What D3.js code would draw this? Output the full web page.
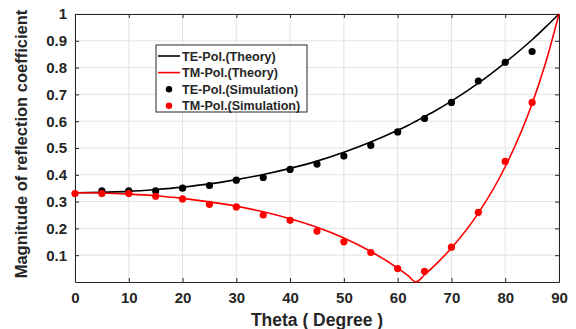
<!DOCTYPE html>
<html>
<head>
<meta charset="utf-8">
<script src="https://cdn.jsdelivr.net/npm/d3@7"></script>
<style>
  body { margin: 0; background: #fff; }
  text { font-family: "Liberation Sans", Arial, sans-serif; font-weight: bold; fill: #262626; }
</style>
</head>
<body>
<div id="chart"></div>
<script>
// theory curves
const thetaTheory = [0, 5, 10, 15, 20, 25, 30, 35, 40, 45, 50, 55, 60, 62, 63.4, 65, 67, 70, 75, 80, 85, 87.5, 90];
const teTheory = [0.333, 0.335, 0.338, 0.345, 0.354, 0.366, 0.382, 0.401, 0.424, 0.451, 0.484, 0.522, 0.566, 0.585, 0.6, 0.617, 0.639, 0.675, 0.742, 0.819, 0.904, 0.951, 1];
const tmTheory = [0.333, 0.332, 0.328, 0.322, 0.312, 0.299, 0.283, 0.262, 0.236, 0.204, 0.164, 0.114, 0.052, 0.023, 0.0, 0.027, 0.064, 0.127, 0.257, 0.430, 0.665, 0.817, 1];

// simulation points
const thetaTeSim = [5, 10, 15, 20, 25, 30, 35, 40, 45, 50, 55, 60, 65, 70, 75, 80, 85];
const teSim = [0.34, 0.34, 0.34, 0.35, 0.36, 0.38, 0.39, 0.42, 0.44, 0.47, 0.51, 0.56, 0.61, 0.67, 0.75, 0.82, 0.86];
const thetaTmSim = [0, 5, 10, 15, 20, 25, 30, 35, 40, 45, 50, 55, 60, 65, 70, 75, 80, 85];
const tmSim = [0.33, 0.33, 0.33, 0.32, 0.31, 0.29, 0.28, 0.25, 0.23, 0.19, 0.15, 0.11, 0.05, 0.04, 0.13, 0.26, 0.45, 0.67];

const xTicks = [0, 10, 20, 30, 40, 50, 60, 70, 80, 90];
const yTicks = [0.1, 0.2, 0.3, 0.4, 0.5, 0.6, 0.7, 0.8, 0.9, 1];
const legendLabels = ['TE-Pol.(Theory)', 'TM-Pol.(Theory)', 'TE-Pol.(Simulation)', 'TM-Pol.(Simulation)'];

const W = 576, H = 329;
const margin = { top: 14, right: 17, bottom: 47, left: 75 };
const width = W - margin.left - margin.right;
const height = H - margin.top - margin.bottom;

const svg = d3.select('#chart')
  .append('svg')
  .attr('width', W)
  .attr('height', H);

const g = svg.append('g')
  .attr('transform', `translate(${margin.left},${margin.top})`);

const x = d3.scaleLinear().domain([0, 90]).range([0, width]);
const y = d3.scaleLinear().domain([0, 1]).range([height, 0]);

// grid
g.append('g')
  .selectAll('line')
  .data(xTicks)
  .enter()
  .append('line')
  .attr('x1', (d) => x(d)).attr('x2', (d) => x(d))
  .attr('y1', 0).attr('y2', height)
  .attr('stroke', '#e3e3e3').attr('stroke-width', 1);

g.append('g')
  .selectAll('line')
  .data(yTicks)
  .enter()
  .append('line')
  .attr('x1', 0).attr('x2', width)
  .attr('y1', (d) => y(d)).attr('y2', (d) => y(d))
  .attr('stroke', '#e3e3e3').attr('stroke-width', 1);

// axes (ticks pointing in)
const axisColor = '#262626';
const styleAxis = (sel) => {
  sel.selectAll('.domain').attr('stroke', axisColor);
  sel.selectAll('.tick line').attr('stroke', axisColor);
  sel.selectAll('.tick text')
    .attr('font-size', 15)
    .attr('font-family', '"Liberation Sans", Arial, sans-serif')
    .attr('font-weight', 'bold')
    .attr('fill', axisColor);
};

g.append('g')
  .attr('transform', `translate(0,${height})`)
  .call(d3.axisBottom(x).tickValues(xTicks).tickSize(-4).tickPadding(10).tickSizeOuter(0))
  .call(styleAxis);

g.append('g')
  .call(d3.axisLeft(y).tickValues(yTicks).tickFormat((d) => d3.format('')(d)).tickSize(-4).tickPadding(8).tickSizeOuter(0))
  .call(styleAxis);

g.append('g')
  .call(d3.axisTop(x).tickValues(xTicks).tickSize(-4).tickFormat('').tickSizeOuter(0))
  .call(styleAxis);

g.append('g')
  .attr('transform', `translate(${width},0)`)
  .call(d3.axisRight(y).tickValues(yTicks).tickSize(-4).tickFormat('').tickSizeOuter(0))
  .call(styleAxis);

// theory lines
const line = d3.line()
  .x((d) => x(d[0]))
  .y((d) => y(d[1]))
  .curve(d3.curveMonotoneX);

g.append('path')
  .datum(thetaTheory.map((t, i) => [t, teTheory[i]]))
  .attr('fill', 'none')
  .attr('stroke', '#000')
  .attr('stroke-width', 1.6)
  .attr('d', line);

g.append('path')
  .datum(thetaTheory.map((t, i) => [t, tmTheory[i]]))
  .attr('fill', 'none')
  .attr('stroke', '#ff0000')
  .attr('stroke-width', 1.6)
  .attr('d', line);

// simulation dots
g.append('g')
  .selectAll('circle')
  .data(thetaTeSim.map((t, i) => [t, teSim[i]]))
  .enter()
  .append('circle')
  .attr('cx', (d) => x(d[0]))
  .attr('cy', (d) => y(d[1]))
  .attr('r', 3.6)
  .attr('fill', '#000');

g.append('g')
  .selectAll('circle')
  .data(thetaTmSim.map((t, i) => [t, tmSim[i]]))
  .enter()
  .append('circle')
  .attr('cx', (d) => x(d[0]))
  .attr('cy', (d) => y(d[1]))
  .attr('r', 3.6)
  .attr('fill', '#ff0000');

// legend
const legend = svg.append('g').attr('transform', 'translate(156,45)');
legend.append('rect')
  .attr('width', 151).attr('height', 67)
  .attr('fill', '#fff').attr('stroke', '#262626').attr('stroke-width', 1);

const legendColors = ['#000', '#ff0000', '#000', '#ff0000'];
legendLabels.forEach((label, i) => {
  const ly = 11 + i * 16.6;
  if (i < 2) {
    legend.append('line')
      .attr('x1', 2).attr('x2', 24).attr('y1', ly).attr('y2', ly)
      .attr('stroke', legendColors[i]).attr('stroke-width', 1.6);
  } else {
    legend.append('circle')
      .attr('cx', 13).attr('cy', ly).attr('r', 3.2)
      .attr('fill', legendColors[i]);
  }
  legend.append('text')
    .attr('x', 26).attr('y', ly + 4.5)
    .attr('font-size', 12.6)
    .text(label);
});

// axis titles
svg.append('text')
  .attr('x', margin.left + width / 2)
  .attr('y', 326)
  .attr('text-anchor', 'middle')
  .attr('font-size', 17.5)
  .text('Theta ( Degree )');

svg.append('text')
  .attr('transform', `translate(27,${margin.top + height / 2 - 4}) rotate(-90)`)
  .attr('text-anchor', 'middle')
  .attr('font-size', 16.5)
  .text('Magnitude of reflection coefficient');
</script>
</body>
</html>
